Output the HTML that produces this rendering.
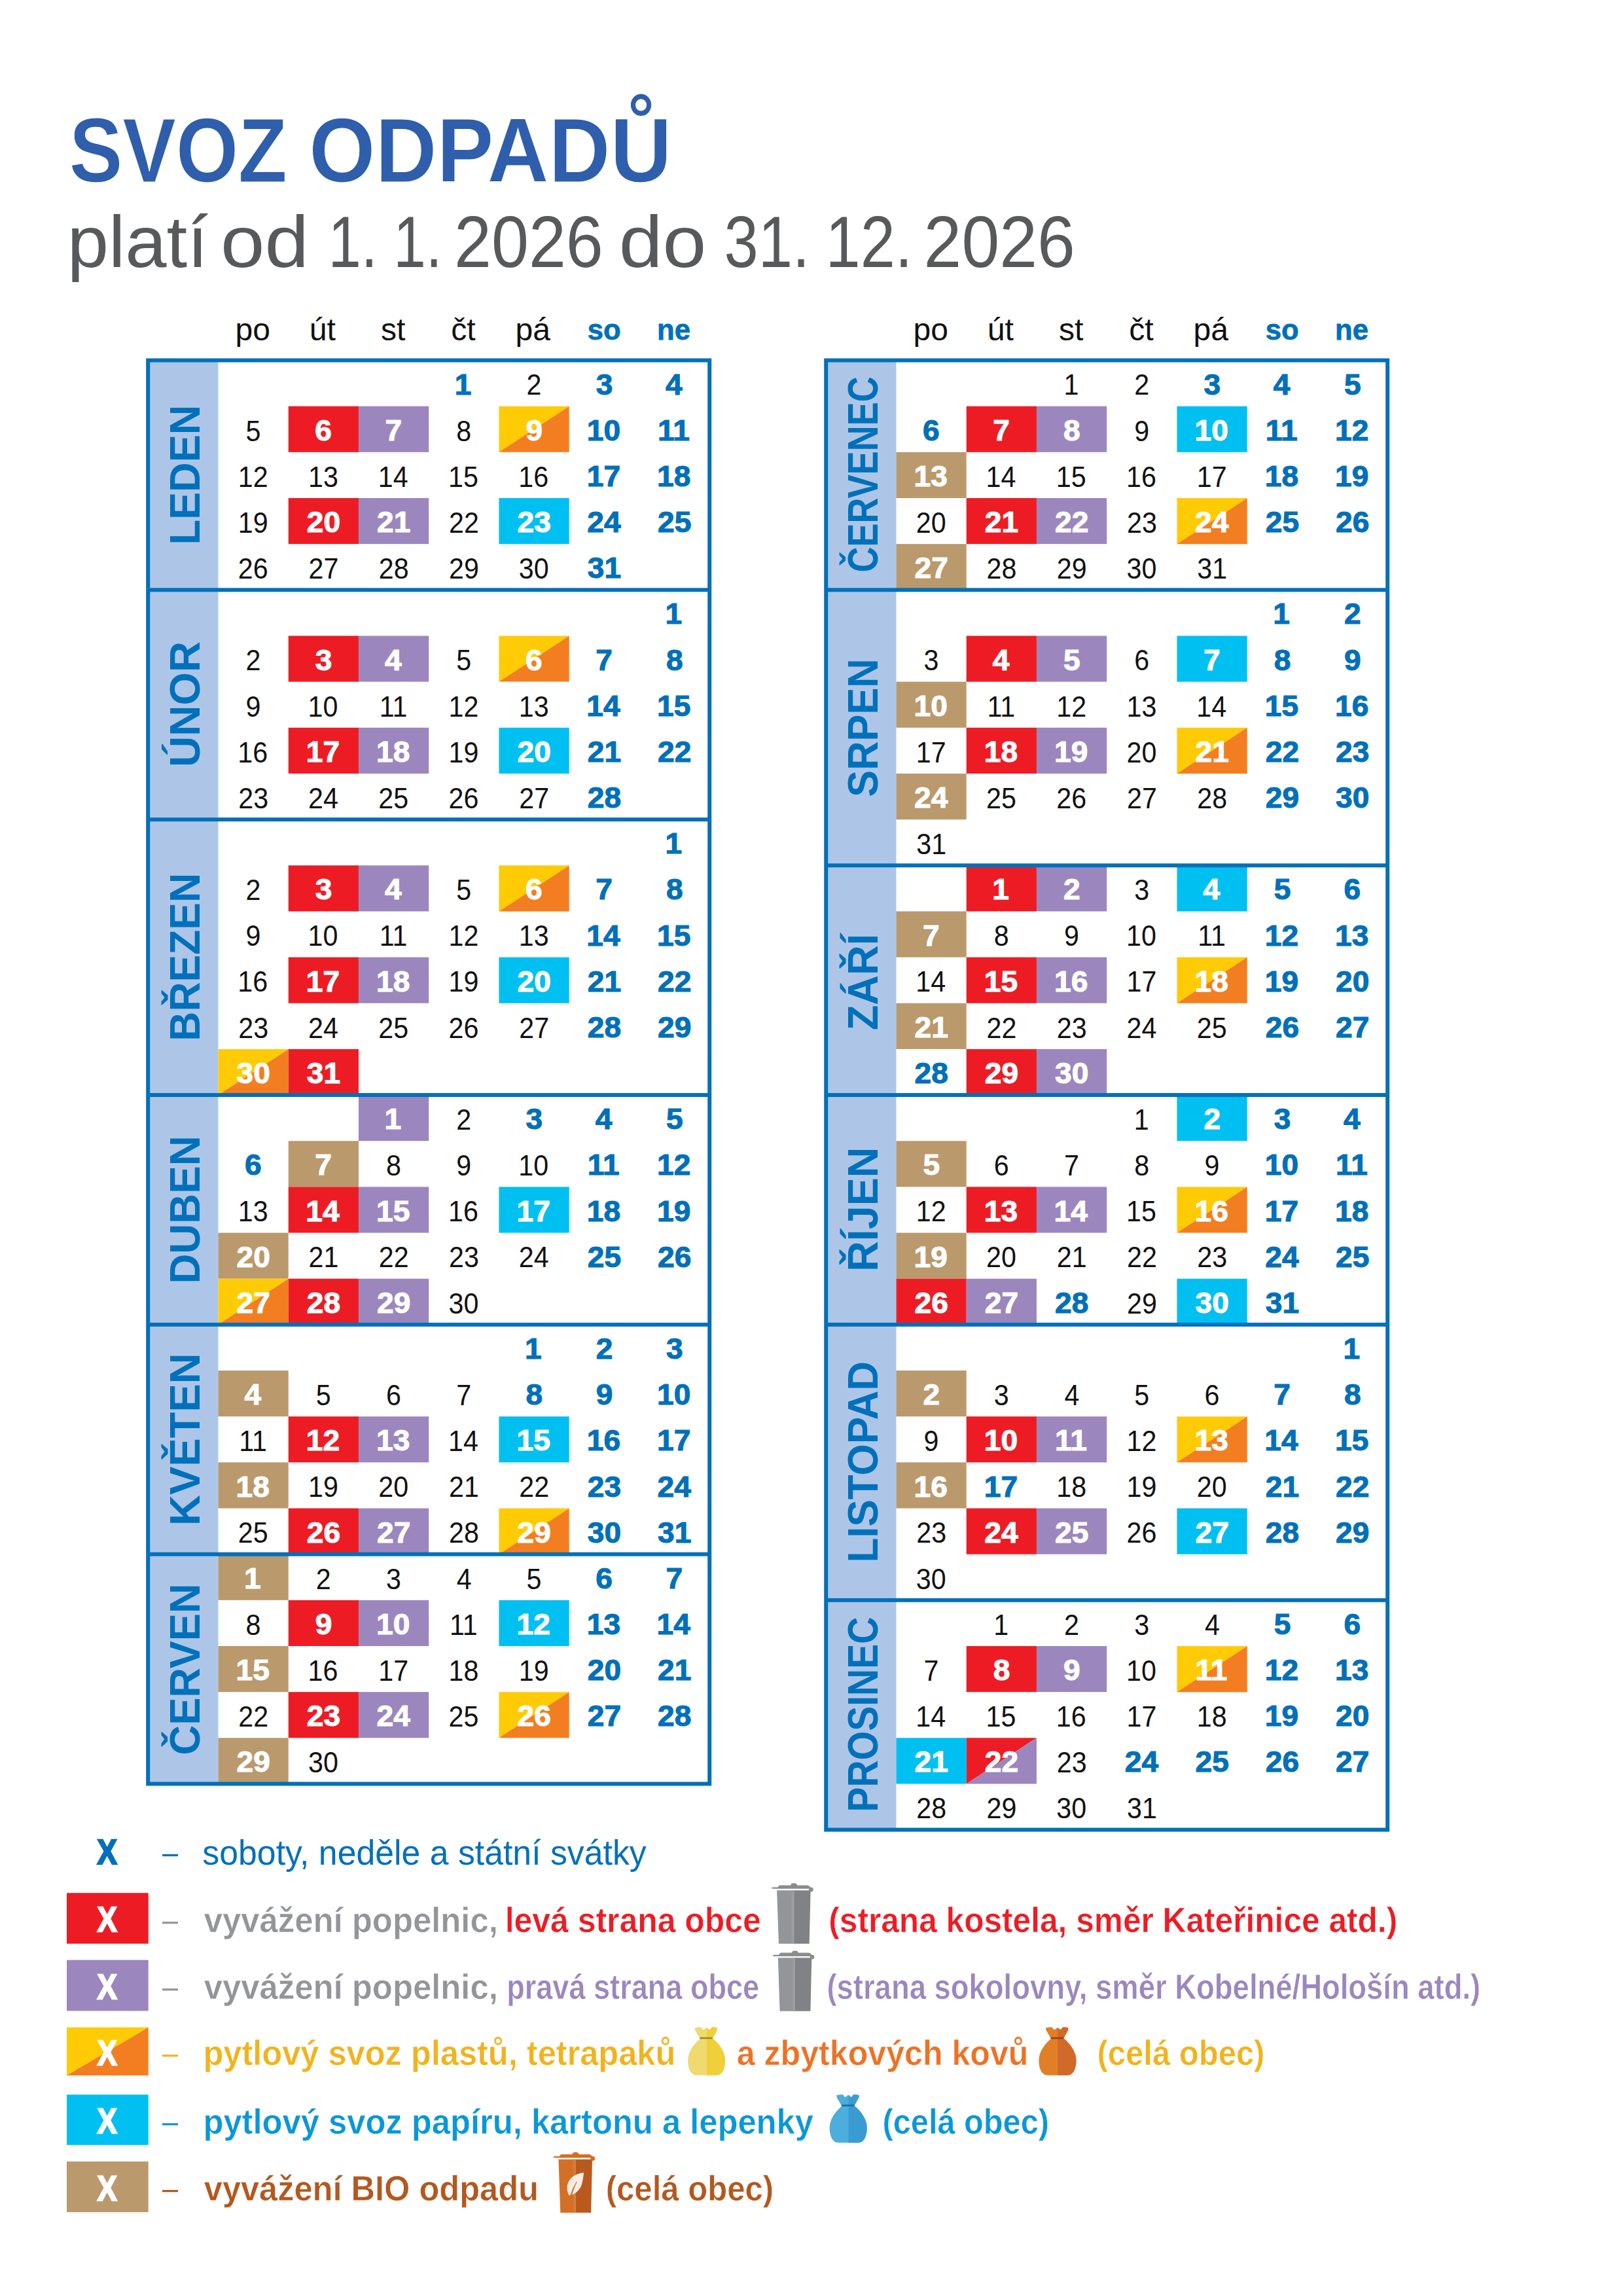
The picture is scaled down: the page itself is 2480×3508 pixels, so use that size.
<!DOCTYPE html>
<html lang="cs"><head><meta charset="utf-8"><title>Svoz odpadů 2026</title>
<style>
html,body{margin:0;padding:0;background:#fff;}
body{width:2480px;height:3508px;overflow:hidden;}
svg{display:block;}
text{font-family:"Liberation Sans",Arial,sans-serif;}
.r{font-size:44.3px;}
.b{font-size:44.3px;font-weight:bold;stroke-width:1.1px;}
</style></head><body>
<svg width="2480" height="3508" viewBox="0 0 2480 3508">
<rect width="2480" height="3508" fill="#fff"/>
<text x="105.79" y="277.8" font-size="139.5" font-weight="bold" fill="#2E5EAC" textLength="333.05" lengthAdjust="spacingAndGlyphs" stroke="#FFFFFF" stroke-width="1">SVOZ</text>
<text x="472.3" y="277.8" font-size="139.5" font-weight="bold" fill="#2E5EAC" textLength="554.22" lengthAdjust="spacingAndGlyphs" stroke="#FFFFFF" stroke-width="1">ODPADŮ</text>
<text x="102.83" y="407.6" font-size="111" fill="#58595B" textLength="215" lengthAdjust="spacingAndGlyphs">platí</text>
<text x="337.04" y="407.6" font-size="111" fill="#58595B" textLength="134.81" lengthAdjust="spacingAndGlyphs">od</text>
<text x="501.47" y="407.6" font-size="111" fill="#58595B" textLength="75.54" lengthAdjust="spacingAndGlyphs">1.</text>
<text x="601.18" y="407.6" font-size="111" fill="#58595B" textLength="74.3" lengthAdjust="spacingAndGlyphs">1.</text>
<text x="694.09" y="407.6" font-size="111" fill="#58595B" textLength="227.66" lengthAdjust="spacingAndGlyphs">2026</text>
<text x="945.7" y="407.6" font-size="111" fill="#58595B" textLength="133.43" lengthAdjust="spacingAndGlyphs">do</text>
<text x="1106.62" y="407.6" font-size="111" fill="#58595B" textLength="130.5" lengthAdjust="spacingAndGlyphs">31.</text>
<text x="1261.51" y="407.6" font-size="111" fill="#58595B" textLength="132.86" lengthAdjust="spacingAndGlyphs">12.</text>
<text x="1411.62" y="407.6" font-size="111" fill="#58595B" textLength="231.09" lengthAdjust="spacingAndGlyphs">2026</text>
<text x="359.57" y="519.8" font-size="48" fill="#111111">po</text>
<text x="472.82" y="519.8" font-size="48" fill="#111111">út</text>
<text x="582.08" y="519.8" font-size="48" fill="#111111">st</text>
<text x="689.33" y="519.8" font-size="48" fill="#111111">čt</text>
<text x="787.58" y="519.8" font-size="48" fill="#111111">pá</text>
<text x="897.83" y="519.2" font-size="43.6" font-weight="bold" fill="#0070BA" stroke="#0070BA" stroke-width="0.8">so</text>
<text x="1004.08" y="519.2" font-size="43.6" font-weight="bold" fill="#0070BA" stroke="#0070BA" stroke-width="0.8">ne</text>
<rect x="226.2" y="550.5" width="107.25" height="2174.96" fill="#ADC6E8"/>
<rect x="440.7" y="620.66" width="107.25" height="70.16" fill="#ED1C24"/>
<rect x="547.95" y="620.66" width="107.25" height="70.16" fill="#9B87BE"/>
<path d="M762.45 620.66H869.7L762.45 690.82Z" fill="#FFCB05"/>
<path d="M869.7 620.66V690.82H762.45Z" fill="#F37E21"/>
<rect x="440.7" y="760.98" width="107.25" height="70.16" fill="#ED1C24"/>
<rect x="547.95" y="760.98" width="107.25" height="70.16" fill="#9B87BE"/>
<rect x="762.45" y="760.98" width="107.25" height="70.16" fill="#00C0F2"/>
<rect x="440.7" y="971.46" width="107.25" height="70.16" fill="#ED1C24"/>
<rect x="547.95" y="971.46" width="107.25" height="70.16" fill="#9B87BE"/>
<path d="M762.45 971.46H869.7L762.45 1041.62Z" fill="#FFCB05"/>
<path d="M869.7 971.46V1041.62H762.45Z" fill="#F37E21"/>
<rect x="440.7" y="1111.78" width="107.25" height="70.16" fill="#ED1C24"/>
<rect x="547.95" y="1111.78" width="107.25" height="70.16" fill="#9B87BE"/>
<rect x="762.45" y="1111.78" width="107.25" height="70.16" fill="#00C0F2"/>
<rect x="440.7" y="1322.26" width="107.25" height="70.16" fill="#ED1C24"/>
<rect x="547.95" y="1322.26" width="107.25" height="70.16" fill="#9B87BE"/>
<path d="M762.45 1322.26H869.7L762.45 1392.42Z" fill="#FFCB05"/>
<path d="M869.7 1322.26V1392.42H762.45Z" fill="#F37E21"/>
<rect x="440.7" y="1462.58" width="107.25" height="70.16" fill="#ED1C24"/>
<rect x="547.95" y="1462.58" width="107.25" height="70.16" fill="#9B87BE"/>
<rect x="762.45" y="1462.58" width="107.25" height="70.16" fill="#00C0F2"/>
<path d="M333.45 1602.9H440.7L333.45 1673.06Z" fill="#FFCB05"/>
<path d="M440.7 1602.9V1673.06H333.45Z" fill="#F37E21"/>
<rect x="440.7" y="1602.9" width="107.25" height="70.16" fill="#ED1C24"/>
<rect x="547.95" y="1673.06" width="107.25" height="70.16" fill="#9B87BE"/>
<rect x="440.7" y="1743.22" width="107.25" height="70.16" fill="#BA996C"/>
<rect x="440.7" y="1813.38" width="107.25" height="70.16" fill="#ED1C24"/>
<rect x="547.95" y="1813.38" width="107.25" height="70.16" fill="#9B87BE"/>
<rect x="762.45" y="1813.38" width="107.25" height="70.16" fill="#00C0F2"/>
<rect x="333.45" y="1883.54" width="107.25" height="70.16" fill="#BA996C"/>
<path d="M333.45 1953.7H440.7L333.45 2023.86Z" fill="#FFCB05"/>
<path d="M440.7 1953.7V2023.86H333.45Z" fill="#F37E21"/>
<rect x="440.7" y="1953.7" width="107.25" height="70.16" fill="#ED1C24"/>
<rect x="547.95" y="1953.7" width="107.25" height="70.16" fill="#9B87BE"/>
<rect x="333.45" y="2094.02" width="107.25" height="70.16" fill="#BA996C"/>
<rect x="440.7" y="2164.18" width="107.25" height="70.16" fill="#ED1C24"/>
<rect x="547.95" y="2164.18" width="107.25" height="70.16" fill="#9B87BE"/>
<rect x="762.45" y="2164.18" width="107.25" height="70.16" fill="#00C0F2"/>
<rect x="333.45" y="2234.34" width="107.25" height="70.16" fill="#BA996C"/>
<rect x="440.7" y="2304.5" width="107.25" height="70.16" fill="#ED1C24"/>
<rect x="547.95" y="2304.5" width="107.25" height="70.16" fill="#9B87BE"/>
<path d="M762.45 2304.5H869.7L762.45 2374.66Z" fill="#FFCB05"/>
<path d="M869.7 2304.5V2374.66H762.45Z" fill="#F37E21"/>
<rect x="333.45" y="2374.66" width="107.25" height="70.16" fill="#BA996C"/>
<rect x="440.7" y="2444.82" width="107.25" height="70.16" fill="#ED1C24"/>
<rect x="547.95" y="2444.82" width="107.25" height="70.16" fill="#9B87BE"/>
<rect x="762.45" y="2444.82" width="107.25" height="70.16" fill="#00C0F2"/>
<rect x="333.45" y="2514.98" width="107.25" height="70.16" fill="#BA996C"/>
<rect x="440.7" y="2585.14" width="107.25" height="70.16" fill="#ED1C24"/>
<rect x="547.95" y="2585.14" width="107.25" height="70.16" fill="#9B87BE"/>
<path d="M762.45 2585.14H869.7L762.45 2655.3Z" fill="#FFCB05"/>
<path d="M869.7 2585.14V2655.3H762.45Z" fill="#F37E21"/>
<rect x="333.45" y="2655.3" width="107.25" height="70.16" fill="#BA996C"/>
<text x="694.79" y="602.68" class="b" fill="#0070BA" textLength="25.62" lengthAdjust="spacingAndGlyphs" stroke="#0070BA">1</text>
<text x="804.45" y="603.38" class="r" fill="#111111" textLength="22.91" lengthAdjust="spacingAndGlyphs">2</text>
<text x="910.85" y="602.68" class="b" fill="#0070BA" textLength="25.62" lengthAdjust="spacingAndGlyphs" stroke="#0070BA">3</text>
<text x="1017.06" y="602.68" class="b" fill="#0070BA" textLength="25.62" lengthAdjust="spacingAndGlyphs" stroke="#0070BA">4</text>
<text x="375.45" y="673.54" class="r" fill="#111111" textLength="22.91" lengthAdjust="spacingAndGlyphs">5</text>
<text x="481.32" y="672.84" class="b" fill="#FFFFFF" textLength="25.62" lengthAdjust="spacingAndGlyphs" stroke="#FFFFFF">6</text>
<text x="588.58" y="672.84" class="b" fill="#FFFFFF" textLength="25.62" lengthAdjust="spacingAndGlyphs" stroke="#FFFFFF">7</text>
<text x="697.2" y="673.54" class="r" fill="#111111" textLength="22.91" lengthAdjust="spacingAndGlyphs">8</text>
<text x="803.6" y="672.84" class="b" fill="#FFFFFF" textLength="25.62" lengthAdjust="spacingAndGlyphs" stroke="#FFFFFF">9</text>
<text x="896.81" y="672.84" class="b" fill="#0070BA" textLength="51.24" lengthAdjust="spacingAndGlyphs" stroke="#0070BA">10</text>
<text x="1005.1" y="672.84" class="b" fill="#0070BA" textLength="48.7" lengthAdjust="spacingAndGlyphs" stroke="#0070BA">11</text>
<text x="363.82" y="743.7" class="r" fill="#111111" textLength="45.82" lengthAdjust="spacingAndGlyphs">12</text>
<text x="471.07" y="743.7" class="r" fill="#111111" textLength="45.82" lengthAdjust="spacingAndGlyphs">13</text>
<text x="577.86" y="743.7" class="r" fill="#111111" textLength="45.82" lengthAdjust="spacingAndGlyphs">14</text>
<text x="685.11" y="743.7" class="r" fill="#111111" textLength="45.82" lengthAdjust="spacingAndGlyphs">15</text>
<text x="792.36" y="743.7" class="r" fill="#111111" textLength="45.82" lengthAdjust="spacingAndGlyphs">16</text>
<text x="896.81" y="743" class="b" fill="#0070BA" textLength="51.24" lengthAdjust="spacingAndGlyphs" stroke="#0070BA">17</text>
<text x="1004.06" y="743" class="b" fill="#0070BA" textLength="51.24" lengthAdjust="spacingAndGlyphs" stroke="#0070BA">18</text>
<text x="363.82" y="813.87" class="r" fill="#111111" textLength="45.82" lengthAdjust="spacingAndGlyphs">19</text>
<text x="468.84" y="813.16" class="b" fill="#FFFFFF" textLength="51.24" lengthAdjust="spacingAndGlyphs" stroke="#FFFFFF">20</text>
<text x="576.1" y="813.16" class="b" fill="#FFFFFF" textLength="51.24" lengthAdjust="spacingAndGlyphs" stroke="#FFFFFF">21</text>
<text x="686.04" y="813.87" class="r" fill="#111111" textLength="45.82" lengthAdjust="spacingAndGlyphs">22</text>
<text x="790.6" y="813.16" class="b" fill="#FFFFFF" textLength="51.24" lengthAdjust="spacingAndGlyphs" stroke="#FFFFFF">23</text>
<text x="897.33" y="813.16" class="b" fill="#0070BA" textLength="51.24" lengthAdjust="spacingAndGlyphs" stroke="#0070BA">24</text>
<text x="1005.1" y="813.16" class="b" fill="#0070BA" textLength="51.24" lengthAdjust="spacingAndGlyphs" stroke="#0070BA">25</text>
<text x="363.82" y="884.02" class="r" fill="#111111" textLength="45.82" lengthAdjust="spacingAndGlyphs">26</text>
<text x="471.54" y="884.02" class="r" fill="#111111" textLength="45.82" lengthAdjust="spacingAndGlyphs">27</text>
<text x="578.79" y="884.02" class="r" fill="#111111" textLength="45.82" lengthAdjust="spacingAndGlyphs">28</text>
<text x="686.04" y="884.02" class="r" fill="#111111" textLength="45.82" lengthAdjust="spacingAndGlyphs">29</text>
<text x="792.83" y="884.02" class="r" fill="#111111" textLength="45.82" lengthAdjust="spacingAndGlyphs">30</text>
<text x="897.85" y="883.32" class="b" fill="#0070BA" textLength="51.24" lengthAdjust="spacingAndGlyphs" stroke="#0070BA">31</text>
<text x="1016.54" y="953.48" class="b" fill="#0070BA" textLength="25.62" lengthAdjust="spacingAndGlyphs" stroke="#0070BA">1</text>
<text x="375.45" y="1024.35" class="r" fill="#111111" textLength="22.91" lengthAdjust="spacingAndGlyphs">2</text>
<text x="481.84" y="1023.64" class="b" fill="#FFFFFF" textLength="25.62" lengthAdjust="spacingAndGlyphs" stroke="#FFFFFF">3</text>
<text x="588.06" y="1023.64" class="b" fill="#FFFFFF" textLength="25.62" lengthAdjust="spacingAndGlyphs" stroke="#FFFFFF">4</text>
<text x="697.2" y="1024.35" class="r" fill="#111111" textLength="22.91" lengthAdjust="spacingAndGlyphs">5</text>
<text x="803.08" y="1023.64" class="b" fill="#FFFFFF" textLength="25.62" lengthAdjust="spacingAndGlyphs" stroke="#FFFFFF">6</text>
<text x="910.33" y="1023.64" class="b" fill="#0070BA" textLength="25.62" lengthAdjust="spacingAndGlyphs" stroke="#0070BA">7</text>
<text x="1018.1" y="1023.64" class="b" fill="#0070BA" textLength="25.62" lengthAdjust="spacingAndGlyphs" stroke="#0070BA">8</text>
<text x="375.45" y="1094.5" class="r" fill="#111111" textLength="22.91" lengthAdjust="spacingAndGlyphs">9</text>
<text x="470.61" y="1094.5" class="r" fill="#111111" textLength="45.82" lengthAdjust="spacingAndGlyphs">10</text>
<text x="579.72" y="1094.5" class="r" fill="#111111" textLength="42.76" lengthAdjust="spacingAndGlyphs">11</text>
<text x="685.58" y="1094.5" class="r" fill="#111111" textLength="45.82" lengthAdjust="spacingAndGlyphs">12</text>
<text x="792.83" y="1094.5" class="r" fill="#111111" textLength="45.82" lengthAdjust="spacingAndGlyphs">13</text>
<text x="896.29" y="1093.8" class="b" fill="#0070BA" textLength="51.24" lengthAdjust="spacingAndGlyphs" stroke="#0070BA">14</text>
<text x="1004.06" y="1093.8" class="b" fill="#0070BA" textLength="51.24" lengthAdjust="spacingAndGlyphs" stroke="#0070BA">15</text>
<text x="363.36" y="1164.66" class="r" fill="#111111" textLength="45.82" lengthAdjust="spacingAndGlyphs">16</text>
<text x="467.81" y="1163.96" class="b" fill="#FFFFFF" textLength="51.24" lengthAdjust="spacingAndGlyphs" stroke="#FFFFFF">17</text>
<text x="575.06" y="1163.96" class="b" fill="#FFFFFF" textLength="51.24" lengthAdjust="spacingAndGlyphs" stroke="#FFFFFF">18</text>
<text x="685.58" y="1164.66" class="r" fill="#111111" textLength="45.82" lengthAdjust="spacingAndGlyphs">19</text>
<text x="790.6" y="1163.96" class="b" fill="#FFFFFF" textLength="51.24" lengthAdjust="spacingAndGlyphs" stroke="#FFFFFF">20</text>
<text x="897.85" y="1163.96" class="b" fill="#0070BA" textLength="51.24" lengthAdjust="spacingAndGlyphs" stroke="#0070BA">21</text>
<text x="1005.1" y="1163.96" class="b" fill="#0070BA" textLength="51.24" lengthAdjust="spacingAndGlyphs" stroke="#0070BA">22</text>
<text x="364.29" y="1234.83" class="r" fill="#111111" textLength="45.82" lengthAdjust="spacingAndGlyphs">23</text>
<text x="471.07" y="1234.83" class="r" fill="#111111" textLength="45.82" lengthAdjust="spacingAndGlyphs">24</text>
<text x="578.33" y="1234.83" class="r" fill="#111111" textLength="45.82" lengthAdjust="spacingAndGlyphs">25</text>
<text x="685.58" y="1234.83" class="r" fill="#111111" textLength="45.82" lengthAdjust="spacingAndGlyphs">26</text>
<text x="793.29" y="1234.83" class="r" fill="#111111" textLength="45.82" lengthAdjust="spacingAndGlyphs">27</text>
<text x="897.85" y="1234.12" class="b" fill="#0070BA" textLength="51.24" lengthAdjust="spacingAndGlyphs" stroke="#0070BA">28</text>
<text x="1016.54" y="1304.28" class="b" fill="#0070BA" textLength="25.62" lengthAdjust="spacingAndGlyphs" stroke="#0070BA">1</text>
<text x="375.45" y="1375.14" class="r" fill="#111111" textLength="22.91" lengthAdjust="spacingAndGlyphs">2</text>
<text x="481.84" y="1374.44" class="b" fill="#FFFFFF" textLength="25.62" lengthAdjust="spacingAndGlyphs" stroke="#FFFFFF">3</text>
<text x="588.06" y="1374.44" class="b" fill="#FFFFFF" textLength="25.62" lengthAdjust="spacingAndGlyphs" stroke="#FFFFFF">4</text>
<text x="697.2" y="1375.14" class="r" fill="#111111" textLength="22.91" lengthAdjust="spacingAndGlyphs">5</text>
<text x="803.08" y="1374.44" class="b" fill="#FFFFFF" textLength="25.62" lengthAdjust="spacingAndGlyphs" stroke="#FFFFFF">6</text>
<text x="910.33" y="1374.44" class="b" fill="#0070BA" textLength="25.62" lengthAdjust="spacingAndGlyphs" stroke="#0070BA">7</text>
<text x="1018.1" y="1374.44" class="b" fill="#0070BA" textLength="25.62" lengthAdjust="spacingAndGlyphs" stroke="#0070BA">8</text>
<text x="375.45" y="1445.31" class="r" fill="#111111" textLength="22.91" lengthAdjust="spacingAndGlyphs">9</text>
<text x="470.61" y="1445.31" class="r" fill="#111111" textLength="45.82" lengthAdjust="spacingAndGlyphs">10</text>
<text x="579.72" y="1445.31" class="r" fill="#111111" textLength="42.76" lengthAdjust="spacingAndGlyphs">11</text>
<text x="685.58" y="1445.31" class="r" fill="#111111" textLength="45.82" lengthAdjust="spacingAndGlyphs">12</text>
<text x="792.83" y="1445.31" class="r" fill="#111111" textLength="45.82" lengthAdjust="spacingAndGlyphs">13</text>
<text x="896.29" y="1444.61" class="b" fill="#0070BA" textLength="51.24" lengthAdjust="spacingAndGlyphs" stroke="#0070BA">14</text>
<text x="1004.06" y="1444.61" class="b" fill="#0070BA" textLength="51.24" lengthAdjust="spacingAndGlyphs" stroke="#0070BA">15</text>
<text x="363.36" y="1515.46" class="r" fill="#111111" textLength="45.82" lengthAdjust="spacingAndGlyphs">16</text>
<text x="467.81" y="1514.76" class="b" fill="#FFFFFF" textLength="51.24" lengthAdjust="spacingAndGlyphs" stroke="#FFFFFF">17</text>
<text x="575.06" y="1514.76" class="b" fill="#FFFFFF" textLength="51.24" lengthAdjust="spacingAndGlyphs" stroke="#FFFFFF">18</text>
<text x="685.58" y="1515.46" class="r" fill="#111111" textLength="45.82" lengthAdjust="spacingAndGlyphs">19</text>
<text x="790.6" y="1514.76" class="b" fill="#FFFFFF" textLength="51.24" lengthAdjust="spacingAndGlyphs" stroke="#FFFFFF">20</text>
<text x="897.85" y="1514.76" class="b" fill="#0070BA" textLength="51.24" lengthAdjust="spacingAndGlyphs" stroke="#0070BA">21</text>
<text x="1005.1" y="1514.76" class="b" fill="#0070BA" textLength="51.24" lengthAdjust="spacingAndGlyphs" stroke="#0070BA">22</text>
<text x="364.29" y="1585.62" class="r" fill="#111111" textLength="45.82" lengthAdjust="spacingAndGlyphs">23</text>
<text x="471.07" y="1585.62" class="r" fill="#111111" textLength="45.82" lengthAdjust="spacingAndGlyphs">24</text>
<text x="578.33" y="1585.62" class="r" fill="#111111" textLength="45.82" lengthAdjust="spacingAndGlyphs">25</text>
<text x="685.58" y="1585.62" class="r" fill="#111111" textLength="45.82" lengthAdjust="spacingAndGlyphs">26</text>
<text x="793.29" y="1585.62" class="r" fill="#111111" textLength="45.82" lengthAdjust="spacingAndGlyphs">27</text>
<text x="897.85" y="1584.92" class="b" fill="#0070BA" textLength="51.24" lengthAdjust="spacingAndGlyphs" stroke="#0070BA">28</text>
<text x="1005.1" y="1584.92" class="b" fill="#0070BA" textLength="51.24" lengthAdjust="spacingAndGlyphs" stroke="#0070BA">29</text>
<text x="361.59" y="1655.08" class="b" fill="#FFFFFF" textLength="51.24" lengthAdjust="spacingAndGlyphs" stroke="#FFFFFF">30</text>
<text x="468.84" y="1655.08" class="b" fill="#FFFFFF" textLength="51.24" lengthAdjust="spacingAndGlyphs" stroke="#FFFFFF">31</text>
<text x="587.54" y="1725.24" class="b" fill="#FFFFFF" textLength="25.62" lengthAdjust="spacingAndGlyphs" stroke="#FFFFFF">1</text>
<text x="697.2" y="1725.94" class="r" fill="#111111" textLength="22.91" lengthAdjust="spacingAndGlyphs">2</text>
<text x="803.6" y="1725.24" class="b" fill="#0070BA" textLength="25.62" lengthAdjust="spacingAndGlyphs" stroke="#0070BA">3</text>
<text x="909.81" y="1725.24" class="b" fill="#0070BA" textLength="25.62" lengthAdjust="spacingAndGlyphs" stroke="#0070BA">4</text>
<text x="1018.1" y="1725.24" class="b" fill="#0070BA" textLength="25.62" lengthAdjust="spacingAndGlyphs" stroke="#0070BA">5</text>
<text x="374.07" y="1795.4" class="b" fill="#0070BA" textLength="25.62" lengthAdjust="spacingAndGlyphs" stroke="#0070BA">6</text>
<text x="481.32" y="1795.4" class="b" fill="#FFFFFF" textLength="25.62" lengthAdjust="spacingAndGlyphs" stroke="#FFFFFF">7</text>
<text x="589.95" y="1796.11" class="r" fill="#111111" textLength="22.91" lengthAdjust="spacingAndGlyphs">8</text>
<text x="697.2" y="1796.11" class="r" fill="#111111" textLength="22.91" lengthAdjust="spacingAndGlyphs">9</text>
<text x="792.36" y="1796.11" class="r" fill="#111111" textLength="45.82" lengthAdjust="spacingAndGlyphs">10</text>
<text x="897.85" y="1795.4" class="b" fill="#0070BA" textLength="48.7" lengthAdjust="spacingAndGlyphs" stroke="#0070BA">11</text>
<text x="1004.06" y="1795.4" class="b" fill="#0070BA" textLength="51.24" lengthAdjust="spacingAndGlyphs" stroke="#0070BA">12</text>
<text x="363.82" y="1866.26" class="r" fill="#111111" textLength="45.82" lengthAdjust="spacingAndGlyphs">13</text>
<text x="467.28" y="1865.56" class="b" fill="#FFFFFF" textLength="51.24" lengthAdjust="spacingAndGlyphs" stroke="#FFFFFF">14</text>
<text x="575.06" y="1865.56" class="b" fill="#FFFFFF" textLength="51.24" lengthAdjust="spacingAndGlyphs" stroke="#FFFFFF">15</text>
<text x="685.11" y="1866.26" class="r" fill="#111111" textLength="45.82" lengthAdjust="spacingAndGlyphs">16</text>
<text x="789.56" y="1865.56" class="b" fill="#FFFFFF" textLength="51.24" lengthAdjust="spacingAndGlyphs" stroke="#FFFFFF">17</text>
<text x="896.81" y="1865.56" class="b" fill="#0070BA" textLength="51.24" lengthAdjust="spacingAndGlyphs" stroke="#0070BA">18</text>
<text x="1004.06" y="1865.56" class="b" fill="#0070BA" textLength="51.24" lengthAdjust="spacingAndGlyphs" stroke="#0070BA">19</text>
<text x="361.59" y="1935.72" class="b" fill="#FFFFFF" textLength="51.24" lengthAdjust="spacingAndGlyphs" stroke="#FFFFFF">20</text>
<text x="471.54" y="1936.42" class="r" fill="#111111" textLength="45.82" lengthAdjust="spacingAndGlyphs">21</text>
<text x="578.79" y="1936.42" class="r" fill="#111111" textLength="45.82" lengthAdjust="spacingAndGlyphs">22</text>
<text x="686.04" y="1936.42" class="r" fill="#111111" textLength="45.82" lengthAdjust="spacingAndGlyphs">23</text>
<text x="792.83" y="1936.42" class="r" fill="#111111" textLength="45.82" lengthAdjust="spacingAndGlyphs">24</text>
<text x="897.85" y="1935.72" class="b" fill="#0070BA" textLength="51.24" lengthAdjust="spacingAndGlyphs" stroke="#0070BA">25</text>
<text x="1005.1" y="1935.72" class="b" fill="#0070BA" textLength="51.24" lengthAdjust="spacingAndGlyphs" stroke="#0070BA">26</text>
<text x="361.59" y="2005.88" class="b" fill="#FFFFFF" textLength="51.24" lengthAdjust="spacingAndGlyphs" stroke="#FFFFFF">27</text>
<text x="468.84" y="2005.88" class="b" fill="#FFFFFF" textLength="51.24" lengthAdjust="spacingAndGlyphs" stroke="#FFFFFF">28</text>
<text x="576.1" y="2005.88" class="b" fill="#FFFFFF" textLength="51.24" lengthAdjust="spacingAndGlyphs" stroke="#FFFFFF">29</text>
<text x="685.58" y="2006.58" class="r" fill="#111111" textLength="45.82" lengthAdjust="spacingAndGlyphs">30</text>
<text x="802.04" y="2076.05" class="b" fill="#0070BA" textLength="25.62" lengthAdjust="spacingAndGlyphs" stroke="#0070BA">1</text>
<text x="910.85" y="2076.05" class="b" fill="#0070BA" textLength="25.62" lengthAdjust="spacingAndGlyphs" stroke="#0070BA">2</text>
<text x="1018.1" y="2076.05" class="b" fill="#0070BA" textLength="25.62" lengthAdjust="spacingAndGlyphs" stroke="#0070BA">3</text>
<text x="373.56" y="2146.21" class="b" fill="#FFFFFF" textLength="25.62" lengthAdjust="spacingAndGlyphs" stroke="#FFFFFF">4</text>
<text x="482.7" y="2146.91" class="r" fill="#111111" textLength="22.91" lengthAdjust="spacingAndGlyphs">5</text>
<text x="589.95" y="2146.91" class="r" fill="#111111" textLength="22.91" lengthAdjust="spacingAndGlyphs">6</text>
<text x="697.2" y="2146.91" class="r" fill="#111111" textLength="22.91" lengthAdjust="spacingAndGlyphs">7</text>
<text x="803.6" y="2146.21" class="b" fill="#0070BA" textLength="25.62" lengthAdjust="spacingAndGlyphs" stroke="#0070BA">8</text>
<text x="910.85" y="2146.21" class="b" fill="#0070BA" textLength="25.62" lengthAdjust="spacingAndGlyphs" stroke="#0070BA">9</text>
<text x="1004.06" y="2146.21" class="b" fill="#0070BA" textLength="51.24" lengthAdjust="spacingAndGlyphs" stroke="#0070BA">10</text>
<text x="365.22" y="2217.07" class="r" fill="#111111" textLength="42.76" lengthAdjust="spacingAndGlyphs">11</text>
<text x="467.81" y="2216.37" class="b" fill="#FFFFFF" textLength="51.24" lengthAdjust="spacingAndGlyphs" stroke="#FFFFFF">12</text>
<text x="575.06" y="2216.37" class="b" fill="#FFFFFF" textLength="51.24" lengthAdjust="spacingAndGlyphs" stroke="#FFFFFF">13</text>
<text x="685.11" y="2217.07" class="r" fill="#111111" textLength="45.82" lengthAdjust="spacingAndGlyphs">14</text>
<text x="789.56" y="2216.37" class="b" fill="#FFFFFF" textLength="51.24" lengthAdjust="spacingAndGlyphs" stroke="#FFFFFF">15</text>
<text x="896.81" y="2216.37" class="b" fill="#0070BA" textLength="51.24" lengthAdjust="spacingAndGlyphs" stroke="#0070BA">16</text>
<text x="1004.06" y="2216.37" class="b" fill="#0070BA" textLength="51.24" lengthAdjust="spacingAndGlyphs" stroke="#0070BA">17</text>
<text x="360.56" y="2286.53" class="b" fill="#FFFFFF" textLength="51.24" lengthAdjust="spacingAndGlyphs" stroke="#FFFFFF">18</text>
<text x="471.07" y="2287.23" class="r" fill="#111111" textLength="45.82" lengthAdjust="spacingAndGlyphs">19</text>
<text x="578.33" y="2287.23" class="r" fill="#111111" textLength="45.82" lengthAdjust="spacingAndGlyphs">20</text>
<text x="686.04" y="2287.23" class="r" fill="#111111" textLength="45.82" lengthAdjust="spacingAndGlyphs">21</text>
<text x="793.29" y="2287.23" class="r" fill="#111111" textLength="45.82" lengthAdjust="spacingAndGlyphs">22</text>
<text x="897.85" y="2286.53" class="b" fill="#0070BA" textLength="51.24" lengthAdjust="spacingAndGlyphs" stroke="#0070BA">23</text>
<text x="1004.58" y="2286.53" class="b" fill="#0070BA" textLength="51.24" lengthAdjust="spacingAndGlyphs" stroke="#0070BA">24</text>
<text x="363.82" y="2357.39" class="r" fill="#111111" textLength="45.82" lengthAdjust="spacingAndGlyphs">25</text>
<text x="468.84" y="2356.69" class="b" fill="#FFFFFF" textLength="51.24" lengthAdjust="spacingAndGlyphs" stroke="#FFFFFF">26</text>
<text x="576.1" y="2356.69" class="b" fill="#FFFFFF" textLength="51.24" lengthAdjust="spacingAndGlyphs" stroke="#FFFFFF">27</text>
<text x="686.04" y="2357.39" class="r" fill="#111111" textLength="45.82" lengthAdjust="spacingAndGlyphs">28</text>
<text x="790.6" y="2356.69" class="b" fill="#FFFFFF" textLength="51.24" lengthAdjust="spacingAndGlyphs" stroke="#FFFFFF">29</text>
<text x="897.85" y="2356.69" class="b" fill="#0070BA" textLength="51.24" lengthAdjust="spacingAndGlyphs" stroke="#0070BA">30</text>
<text x="1005.1" y="2356.69" class="b" fill="#0070BA" textLength="51.24" lengthAdjust="spacingAndGlyphs" stroke="#0070BA">31</text>
<text x="373.03" y="2426.85" class="b" fill="#FFFFFF" textLength="25.62" lengthAdjust="spacingAndGlyphs" stroke="#FFFFFF">1</text>
<text x="482.7" y="2427.55" class="r" fill="#111111" textLength="22.91" lengthAdjust="spacingAndGlyphs">2</text>
<text x="589.95" y="2427.55" class="r" fill="#111111" textLength="22.91" lengthAdjust="spacingAndGlyphs">3</text>
<text x="697.67" y="2427.55" class="r" fill="#111111" textLength="22.91" lengthAdjust="spacingAndGlyphs">4</text>
<text x="804.45" y="2427.55" class="r" fill="#111111" textLength="22.91" lengthAdjust="spacingAndGlyphs">5</text>
<text x="910.33" y="2426.85" class="b" fill="#0070BA" textLength="25.62" lengthAdjust="spacingAndGlyphs" stroke="#0070BA">6</text>
<text x="1017.58" y="2426.85" class="b" fill="#0070BA" textLength="25.62" lengthAdjust="spacingAndGlyphs" stroke="#0070BA">7</text>
<text x="375.45" y="2497.7" class="r" fill="#111111" textLength="22.91" lengthAdjust="spacingAndGlyphs">8</text>
<text x="481.84" y="2497.01" class="b" fill="#FFFFFF" textLength="25.62" lengthAdjust="spacingAndGlyphs" stroke="#FFFFFF">9</text>
<text x="575.06" y="2497.01" class="b" fill="#FFFFFF" textLength="51.24" lengthAdjust="spacingAndGlyphs" stroke="#FFFFFF">10</text>
<text x="686.97" y="2497.7" class="r" fill="#111111" textLength="42.76" lengthAdjust="spacingAndGlyphs">11</text>
<text x="789.56" y="2497.01" class="b" fill="#FFFFFF" textLength="51.24" lengthAdjust="spacingAndGlyphs" stroke="#FFFFFF">12</text>
<text x="896.81" y="2497.01" class="b" fill="#0070BA" textLength="51.24" lengthAdjust="spacingAndGlyphs" stroke="#0070BA">13</text>
<text x="1003.54" y="2497.01" class="b" fill="#0070BA" textLength="51.24" lengthAdjust="spacingAndGlyphs" stroke="#0070BA">14</text>
<text x="360.56" y="2567.17" class="b" fill="#FFFFFF" textLength="51.24" lengthAdjust="spacingAndGlyphs" stroke="#FFFFFF">15</text>
<text x="470.61" y="2567.87" class="r" fill="#111111" textLength="45.82" lengthAdjust="spacingAndGlyphs">16</text>
<text x="578.33" y="2567.87" class="r" fill="#111111" textLength="45.82" lengthAdjust="spacingAndGlyphs">17</text>
<text x="685.58" y="2567.87" class="r" fill="#111111" textLength="45.82" lengthAdjust="spacingAndGlyphs">18</text>
<text x="792.83" y="2567.87" class="r" fill="#111111" textLength="45.82" lengthAdjust="spacingAndGlyphs">19</text>
<text x="897.85" y="2567.17" class="b" fill="#0070BA" textLength="51.24" lengthAdjust="spacingAndGlyphs" stroke="#0070BA">20</text>
<text x="1005.1" y="2567.17" class="b" fill="#0070BA" textLength="51.24" lengthAdjust="spacingAndGlyphs" stroke="#0070BA">21</text>
<text x="364.29" y="2638.03" class="r" fill="#111111" textLength="45.82" lengthAdjust="spacingAndGlyphs">22</text>
<text x="468.84" y="2637.33" class="b" fill="#FFFFFF" textLength="51.24" lengthAdjust="spacingAndGlyphs" stroke="#FFFFFF">23</text>
<text x="575.58" y="2637.33" class="b" fill="#FFFFFF" textLength="51.24" lengthAdjust="spacingAndGlyphs" stroke="#FFFFFF">24</text>
<text x="685.58" y="2638.03" class="r" fill="#111111" textLength="45.82" lengthAdjust="spacingAndGlyphs">25</text>
<text x="790.6" y="2637.33" class="b" fill="#FFFFFF" textLength="51.24" lengthAdjust="spacingAndGlyphs" stroke="#FFFFFF">26</text>
<text x="897.85" y="2637.33" class="b" fill="#0070BA" textLength="51.24" lengthAdjust="spacingAndGlyphs" stroke="#0070BA">27</text>
<text x="1005.1" y="2637.33" class="b" fill="#0070BA" textLength="51.24" lengthAdjust="spacingAndGlyphs" stroke="#0070BA">28</text>
<text x="361.59" y="2707.49" class="b" fill="#FFFFFF" textLength="51.24" lengthAdjust="spacingAndGlyphs" stroke="#FFFFFF">29</text>
<text x="471.07" y="2708.18" class="r" fill="#111111" textLength="45.82" lengthAdjust="spacingAndGlyphs">30</text>
<text transform="translate(305.2 725.75) rotate(-90)" x="-106.83" y="0" font-size="65" font-weight="bold" fill="#0070BA" textLength="213.96" lengthAdjust="spacingAndGlyphs">LEDEN</text>
<text transform="translate(305.2 1074.55) rotate(-90)" x="-97.47" y="0" font-size="65" font-weight="bold" fill="#0070BA" textLength="192.31" lengthAdjust="spacingAndGlyphs">ÚNOR</text>
<text transform="translate(305.2 1462.45) rotate(-90)" x="-128.29" y="0" font-size="65" font-weight="bold" fill="#0070BA" textLength="256.82" lengthAdjust="spacingAndGlyphs">BŘEZEN</text>
<text transform="translate(305.2 1848.5) rotate(-90)" x="-113.12" y="0" font-size="65" font-weight="bold" fill="#0070BA" textLength="226.35" lengthAdjust="spacingAndGlyphs">DUBEN</text>
<text transform="translate(305.2 2199.4) rotate(-90)" x="-131.5" y="0" font-size="65" font-weight="bold" fill="#0070BA" textLength="263.65" lengthAdjust="spacingAndGlyphs">KVĚTEN</text>
<text transform="translate(305.2 2551.25) rotate(-90)" x="-130.16" y="0" font-size="65" font-weight="bold" fill="#0070BA" textLength="261.99" lengthAdjust="spacingAndGlyphs">ČERVEN</text>
<rect x="226.2" y="550.5" width="858" height="2174.96" fill="none" stroke="#0070BA" stroke-width="6"/>
<rect x="226.2" y="898.3" width="858" height="6" fill="#0070BA"/>
<rect x="226.2" y="1249.1" width="858" height="6" fill="#0070BA"/>
<rect x="226.2" y="1670.06" width="858" height="6" fill="#0070BA"/>
<rect x="226.2" y="2020.86" width="858" height="6" fill="#0070BA"/>
<rect x="226.2" y="2371.66" width="858" height="6" fill="#0070BA"/>
<text x="1395.58" y="519.8" font-size="48" fill="#111111">po</text>
<text x="1508.83" y="519.8" font-size="48" fill="#111111">út</text>
<text x="1618.08" y="519.8" font-size="48" fill="#111111">st</text>
<text x="1725.33" y="519.8" font-size="48" fill="#111111">čt</text>
<text x="1823.58" y="519.8" font-size="48" fill="#111111">pá</text>
<text x="1933.83" y="519.2" font-size="43.6" font-weight="bold" fill="#0070BA" stroke="#0070BA" stroke-width="0.8">so</text>
<text x="2040.07" y="519.2" font-size="43.6" font-weight="bold" fill="#0070BA" stroke="#0070BA" stroke-width="0.8">ne</text>
<rect x="1262.2" y="550.5" width="107.25" height="2245.12" fill="#ADC6E8"/>
<rect x="1476.7" y="620.66" width="107.25" height="70.16" fill="#ED1C24"/>
<rect x="1583.95" y="620.66" width="107.25" height="70.16" fill="#9B87BE"/>
<rect x="1798.45" y="620.66" width="107.25" height="70.16" fill="#00C0F2"/>
<rect x="1369.45" y="690.82" width="107.25" height="70.16" fill="#BA996C"/>
<rect x="1476.7" y="760.98" width="107.25" height="70.16" fill="#ED1C24"/>
<rect x="1583.95" y="760.98" width="107.25" height="70.16" fill="#9B87BE"/>
<path d="M1798.45 760.98H1905.7L1798.45 831.14Z" fill="#FFCB05"/>
<path d="M1905.7 760.98V831.14H1798.45Z" fill="#F37E21"/>
<rect x="1369.45" y="831.14" width="107.25" height="70.16" fill="#BA996C"/>
<rect x="1476.7" y="971.46" width="107.25" height="70.16" fill="#ED1C24"/>
<rect x="1583.95" y="971.46" width="107.25" height="70.16" fill="#9B87BE"/>
<rect x="1798.45" y="971.46" width="107.25" height="70.16" fill="#00C0F2"/>
<rect x="1369.45" y="1041.62" width="107.25" height="70.16" fill="#BA996C"/>
<rect x="1476.7" y="1111.78" width="107.25" height="70.16" fill="#ED1C24"/>
<rect x="1583.95" y="1111.78" width="107.25" height="70.16" fill="#9B87BE"/>
<path d="M1798.45 1111.78H1905.7L1798.45 1181.94Z" fill="#FFCB05"/>
<path d="M1905.7 1111.78V1181.94H1798.45Z" fill="#F37E21"/>
<rect x="1369.45" y="1181.94" width="107.25" height="70.16" fill="#BA996C"/>
<rect x="1476.7" y="1322.26" width="107.25" height="70.16" fill="#ED1C24"/>
<rect x="1583.95" y="1322.26" width="107.25" height="70.16" fill="#9B87BE"/>
<rect x="1798.45" y="1322.26" width="107.25" height="70.16" fill="#00C0F2"/>
<rect x="1369.45" y="1392.42" width="107.25" height="70.16" fill="#BA996C"/>
<rect x="1476.7" y="1462.58" width="107.25" height="70.16" fill="#ED1C24"/>
<rect x="1583.95" y="1462.58" width="107.25" height="70.16" fill="#9B87BE"/>
<path d="M1798.45 1462.58H1905.7L1798.45 1532.74Z" fill="#FFCB05"/>
<path d="M1905.7 1462.58V1532.74H1798.45Z" fill="#F37E21"/>
<rect x="1369.45" y="1532.74" width="107.25" height="70.16" fill="#BA996C"/>
<rect x="1476.7" y="1602.9" width="107.25" height="70.16" fill="#ED1C24"/>
<rect x="1583.95" y="1602.9" width="107.25" height="70.16" fill="#9B87BE"/>
<rect x="1798.45" y="1673.06" width="107.25" height="70.16" fill="#00C0F2"/>
<rect x="1369.45" y="1743.22" width="107.25" height="70.16" fill="#BA996C"/>
<rect x="1476.7" y="1813.38" width="107.25" height="70.16" fill="#ED1C24"/>
<rect x="1583.95" y="1813.38" width="107.25" height="70.16" fill="#9B87BE"/>
<path d="M1798.45 1813.38H1905.7L1798.45 1883.54Z" fill="#FFCB05"/>
<path d="M1905.7 1813.38V1883.54H1798.45Z" fill="#F37E21"/>
<rect x="1369.45" y="1883.54" width="107.25" height="70.16" fill="#BA996C"/>
<rect x="1369.45" y="1953.7" width="107.25" height="70.16" fill="#ED1C24"/>
<rect x="1476.7" y="1953.7" width="107.25" height="70.16" fill="#9B87BE"/>
<rect x="1798.45" y="1953.7" width="107.25" height="70.16" fill="#00C0F2"/>
<rect x="1369.45" y="2094.02" width="107.25" height="70.16" fill="#BA996C"/>
<rect x="1476.7" y="2164.18" width="107.25" height="70.16" fill="#ED1C24"/>
<rect x="1583.95" y="2164.18" width="107.25" height="70.16" fill="#9B87BE"/>
<path d="M1798.45 2164.18H1905.7L1798.45 2234.34Z" fill="#FFCB05"/>
<path d="M1905.7 2164.18V2234.34H1798.45Z" fill="#F37E21"/>
<rect x="1369.45" y="2234.34" width="107.25" height="70.16" fill="#BA996C"/>
<rect x="1476.7" y="2304.5" width="107.25" height="70.16" fill="#ED1C24"/>
<rect x="1583.95" y="2304.5" width="107.25" height="70.16" fill="#9B87BE"/>
<rect x="1798.45" y="2304.5" width="107.25" height="70.16" fill="#00C0F2"/>
<rect x="1476.7" y="2514.98" width="107.25" height="70.16" fill="#ED1C24"/>
<rect x="1583.95" y="2514.98" width="107.25" height="70.16" fill="#9B87BE"/>
<path d="M1798.45 2514.98H1905.7L1798.45 2585.14Z" fill="#FFCB05"/>
<path d="M1905.7 2514.98V2585.14H1798.45Z" fill="#F37E21"/>
<rect x="1369.45" y="2655.3" width="107.25" height="70.16" fill="#00C0F2"/>
<path d="M1476.7 2655.3H1583.95L1476.7 2725.46Z" fill="#ED1C24"/>
<path d="M1583.95 2655.3V2725.46H1476.7Z" fill="#9B87BE"/>
<text x="1625.49" y="603.38" class="r" fill="#111111" textLength="22.91" lengthAdjust="spacingAndGlyphs">1</text>
<text x="1733.2" y="603.38" class="r" fill="#111111" textLength="22.91" lengthAdjust="spacingAndGlyphs">2</text>
<text x="1839.6" y="602.68" class="b" fill="#0070BA" textLength="25.62" lengthAdjust="spacingAndGlyphs" stroke="#0070BA">3</text>
<text x="1945.81" y="602.68" class="b" fill="#0070BA" textLength="25.62" lengthAdjust="spacingAndGlyphs" stroke="#0070BA">4</text>
<text x="2054.09" y="602.68" class="b" fill="#0070BA" textLength="25.62" lengthAdjust="spacingAndGlyphs" stroke="#0070BA">5</text>
<text x="1410.08" y="672.84" class="b" fill="#0070BA" textLength="25.62" lengthAdjust="spacingAndGlyphs" stroke="#0070BA">6</text>
<text x="1517.33" y="672.84" class="b" fill="#FFFFFF" textLength="25.62" lengthAdjust="spacingAndGlyphs" stroke="#FFFFFF">7</text>
<text x="1625.1" y="672.84" class="b" fill="#FFFFFF" textLength="25.62" lengthAdjust="spacingAndGlyphs" stroke="#FFFFFF">8</text>
<text x="1733.2" y="673.54" class="r" fill="#111111" textLength="22.91" lengthAdjust="spacingAndGlyphs">9</text>
<text x="1825.56" y="672.84" class="b" fill="#FFFFFF" textLength="51.24" lengthAdjust="spacingAndGlyphs" stroke="#FFFFFF">10</text>
<text x="1933.85" y="672.84" class="b" fill="#0070BA" textLength="48.7" lengthAdjust="spacingAndGlyphs" stroke="#0070BA">11</text>
<text x="2040.05" y="672.84" class="b" fill="#0070BA" textLength="51.24" lengthAdjust="spacingAndGlyphs" stroke="#0070BA">12</text>
<text x="1396.56" y="743" class="b" fill="#FFFFFF" textLength="51.24" lengthAdjust="spacingAndGlyphs" stroke="#FFFFFF">13</text>
<text x="1506.61" y="743.7" class="r" fill="#111111" textLength="45.82" lengthAdjust="spacingAndGlyphs">14</text>
<text x="1613.86" y="743.7" class="r" fill="#111111" textLength="45.82" lengthAdjust="spacingAndGlyphs">15</text>
<text x="1721.11" y="743.7" class="r" fill="#111111" textLength="45.82" lengthAdjust="spacingAndGlyphs">16</text>
<text x="1828.83" y="743.7" class="r" fill="#111111" textLength="45.82" lengthAdjust="spacingAndGlyphs">17</text>
<text x="1932.81" y="743" class="b" fill="#0070BA" textLength="51.24" lengthAdjust="spacingAndGlyphs" stroke="#0070BA">18</text>
<text x="2040.05" y="743" class="b" fill="#0070BA" textLength="51.24" lengthAdjust="spacingAndGlyphs" stroke="#0070BA">19</text>
<text x="1399.83" y="813.87" class="r" fill="#111111" textLength="45.82" lengthAdjust="spacingAndGlyphs">20</text>
<text x="1504.85" y="813.16" class="b" fill="#FFFFFF" textLength="51.24" lengthAdjust="spacingAndGlyphs" stroke="#FFFFFF">21</text>
<text x="1612.1" y="813.16" class="b" fill="#FFFFFF" textLength="51.24" lengthAdjust="spacingAndGlyphs" stroke="#FFFFFF">22</text>
<text x="1722.04" y="813.87" class="r" fill="#111111" textLength="45.82" lengthAdjust="spacingAndGlyphs">23</text>
<text x="1826.08" y="813.16" class="b" fill="#FFFFFF" textLength="51.24" lengthAdjust="spacingAndGlyphs" stroke="#FFFFFF">24</text>
<text x="1933.85" y="813.16" class="b" fill="#0070BA" textLength="51.24" lengthAdjust="spacingAndGlyphs" stroke="#0070BA">25</text>
<text x="2041.09" y="813.16" class="b" fill="#0070BA" textLength="51.24" lengthAdjust="spacingAndGlyphs" stroke="#0070BA">26</text>
<text x="1397.6" y="883.32" class="b" fill="#FFFFFF" textLength="51.24" lengthAdjust="spacingAndGlyphs" stroke="#FFFFFF">27</text>
<text x="1507.54" y="884.02" class="r" fill="#111111" textLength="45.82" lengthAdjust="spacingAndGlyphs">28</text>
<text x="1614.79" y="884.02" class="r" fill="#111111" textLength="45.82" lengthAdjust="spacingAndGlyphs">29</text>
<text x="1721.58" y="884.02" class="r" fill="#111111" textLength="45.82" lengthAdjust="spacingAndGlyphs">30</text>
<text x="1829.29" y="884.02" class="r" fill="#111111" textLength="45.82" lengthAdjust="spacingAndGlyphs">31</text>
<text x="1945.29" y="953.48" class="b" fill="#0070BA" textLength="25.62" lengthAdjust="spacingAndGlyphs" stroke="#0070BA">1</text>
<text x="2054.09" y="953.48" class="b" fill="#0070BA" textLength="25.62" lengthAdjust="spacingAndGlyphs" stroke="#0070BA">2</text>
<text x="1411.45" y="1024.35" class="r" fill="#111111" textLength="22.91" lengthAdjust="spacingAndGlyphs">3</text>
<text x="1516.81" y="1023.64" class="b" fill="#FFFFFF" textLength="25.62" lengthAdjust="spacingAndGlyphs" stroke="#FFFFFF">4</text>
<text x="1625.1" y="1023.64" class="b" fill="#FFFFFF" textLength="25.62" lengthAdjust="spacingAndGlyphs" stroke="#FFFFFF">5</text>
<text x="1733.2" y="1024.35" class="r" fill="#111111" textLength="22.91" lengthAdjust="spacingAndGlyphs">6</text>
<text x="1839.08" y="1023.64" class="b" fill="#FFFFFF" textLength="25.62" lengthAdjust="spacingAndGlyphs" stroke="#FFFFFF">7</text>
<text x="1946.85" y="1023.64" class="b" fill="#0070BA" textLength="25.62" lengthAdjust="spacingAndGlyphs" stroke="#0070BA">8</text>
<text x="2054.09" y="1023.64" class="b" fill="#0070BA" textLength="25.62" lengthAdjust="spacingAndGlyphs" stroke="#0070BA">9</text>
<text x="1396.56" y="1093.8" class="b" fill="#FFFFFF" textLength="51.24" lengthAdjust="spacingAndGlyphs" stroke="#FFFFFF">10</text>
<text x="1508.47" y="1094.5" class="r" fill="#111111" textLength="42.76" lengthAdjust="spacingAndGlyphs">11</text>
<text x="1614.33" y="1094.5" class="r" fill="#111111" textLength="45.82" lengthAdjust="spacingAndGlyphs">12</text>
<text x="1721.58" y="1094.5" class="r" fill="#111111" textLength="45.82" lengthAdjust="spacingAndGlyphs">13</text>
<text x="1828.36" y="1094.5" class="r" fill="#111111" textLength="45.82" lengthAdjust="spacingAndGlyphs">14</text>
<text x="1932.81" y="1093.8" class="b" fill="#0070BA" textLength="51.24" lengthAdjust="spacingAndGlyphs" stroke="#0070BA">15</text>
<text x="2040.05" y="1093.8" class="b" fill="#0070BA" textLength="51.24" lengthAdjust="spacingAndGlyphs" stroke="#0070BA">16</text>
<text x="1399.83" y="1164.66" class="r" fill="#111111" textLength="45.82" lengthAdjust="spacingAndGlyphs">17</text>
<text x="1503.81" y="1163.96" class="b" fill="#FFFFFF" textLength="51.24" lengthAdjust="spacingAndGlyphs" stroke="#FFFFFF">18</text>
<text x="1611.06" y="1163.96" class="b" fill="#FFFFFF" textLength="51.24" lengthAdjust="spacingAndGlyphs" stroke="#FFFFFF">19</text>
<text x="1721.58" y="1164.66" class="r" fill="#111111" textLength="45.82" lengthAdjust="spacingAndGlyphs">20</text>
<text x="1826.6" y="1163.96" class="b" fill="#FFFFFF" textLength="51.24" lengthAdjust="spacingAndGlyphs" stroke="#FFFFFF">21</text>
<text x="1933.85" y="1163.96" class="b" fill="#0070BA" textLength="51.24" lengthAdjust="spacingAndGlyphs" stroke="#0070BA">22</text>
<text x="2041.09" y="1163.96" class="b" fill="#0070BA" textLength="51.24" lengthAdjust="spacingAndGlyphs" stroke="#0070BA">23</text>
<text x="1397.08" y="1234.12" class="b" fill="#FFFFFF" textLength="51.24" lengthAdjust="spacingAndGlyphs" stroke="#FFFFFF">24</text>
<text x="1507.08" y="1234.83" class="r" fill="#111111" textLength="45.82" lengthAdjust="spacingAndGlyphs">25</text>
<text x="1614.33" y="1234.83" class="r" fill="#111111" textLength="45.82" lengthAdjust="spacingAndGlyphs">26</text>
<text x="1722.04" y="1234.83" class="r" fill="#111111" textLength="45.82" lengthAdjust="spacingAndGlyphs">27</text>
<text x="1829.29" y="1234.83" class="r" fill="#111111" textLength="45.82" lengthAdjust="spacingAndGlyphs">28</text>
<text x="1933.85" y="1234.12" class="b" fill="#0070BA" textLength="51.24" lengthAdjust="spacingAndGlyphs" stroke="#0070BA">29</text>
<text x="2041.09" y="1234.12" class="b" fill="#0070BA" textLength="51.24" lengthAdjust="spacingAndGlyphs" stroke="#0070BA">30</text>
<text x="1400.29" y="1304.98" class="r" fill="#111111" textLength="45.82" lengthAdjust="spacingAndGlyphs">31</text>
<text x="1516.29" y="1374.44" class="b" fill="#FFFFFF" textLength="25.62" lengthAdjust="spacingAndGlyphs" stroke="#FFFFFF">1</text>
<text x="1625.1" y="1374.44" class="b" fill="#FFFFFF" textLength="25.62" lengthAdjust="spacingAndGlyphs" stroke="#FFFFFF">2</text>
<text x="1733.2" y="1375.14" class="r" fill="#111111" textLength="22.91" lengthAdjust="spacingAndGlyphs">3</text>
<text x="1838.56" y="1374.44" class="b" fill="#FFFFFF" textLength="25.62" lengthAdjust="spacingAndGlyphs" stroke="#FFFFFF">4</text>
<text x="1946.85" y="1374.44" class="b" fill="#0070BA" textLength="25.62" lengthAdjust="spacingAndGlyphs" stroke="#0070BA">5</text>
<text x="2053.57" y="1374.44" class="b" fill="#0070BA" textLength="25.62" lengthAdjust="spacingAndGlyphs" stroke="#0070BA">6</text>
<text x="1410.08" y="1444.61" class="b" fill="#FFFFFF" textLength="25.62" lengthAdjust="spacingAndGlyphs" stroke="#FFFFFF">7</text>
<text x="1518.7" y="1445.31" class="r" fill="#111111" textLength="22.91" lengthAdjust="spacingAndGlyphs">8</text>
<text x="1625.95" y="1445.31" class="r" fill="#111111" textLength="22.91" lengthAdjust="spacingAndGlyphs">9</text>
<text x="1721.11" y="1445.31" class="r" fill="#111111" textLength="45.82" lengthAdjust="spacingAndGlyphs">10</text>
<text x="1830.22" y="1445.31" class="r" fill="#111111" textLength="42.76" lengthAdjust="spacingAndGlyphs">11</text>
<text x="1932.81" y="1444.61" class="b" fill="#0070BA" textLength="51.24" lengthAdjust="spacingAndGlyphs" stroke="#0070BA">12</text>
<text x="2040.05" y="1444.61" class="b" fill="#0070BA" textLength="51.24" lengthAdjust="spacingAndGlyphs" stroke="#0070BA">13</text>
<text x="1399.36" y="1515.46" class="r" fill="#111111" textLength="45.82" lengthAdjust="spacingAndGlyphs">14</text>
<text x="1503.81" y="1514.76" class="b" fill="#FFFFFF" textLength="51.24" lengthAdjust="spacingAndGlyphs" stroke="#FFFFFF">15</text>
<text x="1611.06" y="1514.76" class="b" fill="#FFFFFF" textLength="51.24" lengthAdjust="spacingAndGlyphs" stroke="#FFFFFF">16</text>
<text x="1721.58" y="1515.46" class="r" fill="#111111" textLength="45.82" lengthAdjust="spacingAndGlyphs">17</text>
<text x="1825.56" y="1514.76" class="b" fill="#FFFFFF" textLength="51.24" lengthAdjust="spacingAndGlyphs" stroke="#FFFFFF">18</text>
<text x="1932.81" y="1514.76" class="b" fill="#0070BA" textLength="51.24" lengthAdjust="spacingAndGlyphs" stroke="#0070BA">19</text>
<text x="2041.09" y="1514.76" class="b" fill="#0070BA" textLength="51.24" lengthAdjust="spacingAndGlyphs" stroke="#0070BA">20</text>
<text x="1397.6" y="1584.92" class="b" fill="#FFFFFF" textLength="51.24" lengthAdjust="spacingAndGlyphs" stroke="#FFFFFF">21</text>
<text x="1507.54" y="1585.62" class="r" fill="#111111" textLength="45.82" lengthAdjust="spacingAndGlyphs">22</text>
<text x="1614.79" y="1585.62" class="r" fill="#111111" textLength="45.82" lengthAdjust="spacingAndGlyphs">23</text>
<text x="1721.58" y="1585.62" class="r" fill="#111111" textLength="45.82" lengthAdjust="spacingAndGlyphs">24</text>
<text x="1828.83" y="1585.62" class="r" fill="#111111" textLength="45.82" lengthAdjust="spacingAndGlyphs">25</text>
<text x="1933.85" y="1584.92" class="b" fill="#0070BA" textLength="51.24" lengthAdjust="spacingAndGlyphs" stroke="#0070BA">26</text>
<text x="2041.09" y="1584.92" class="b" fill="#0070BA" textLength="51.24" lengthAdjust="spacingAndGlyphs" stroke="#0070BA">27</text>
<text x="1397.6" y="1655.08" class="b" fill="#0070BA" textLength="51.24" lengthAdjust="spacingAndGlyphs" stroke="#0070BA">28</text>
<text x="1504.85" y="1655.08" class="b" fill="#FFFFFF" textLength="51.24" lengthAdjust="spacingAndGlyphs" stroke="#FFFFFF">29</text>
<text x="1612.1" y="1655.08" class="b" fill="#FFFFFF" textLength="51.24" lengthAdjust="spacingAndGlyphs" stroke="#FFFFFF">30</text>
<text x="1732.74" y="1725.94" class="r" fill="#111111" textLength="22.91" lengthAdjust="spacingAndGlyphs">1</text>
<text x="1839.6" y="1725.24" class="b" fill="#FFFFFF" textLength="25.62" lengthAdjust="spacingAndGlyphs" stroke="#FFFFFF">2</text>
<text x="1946.85" y="1725.24" class="b" fill="#0070BA" textLength="25.62" lengthAdjust="spacingAndGlyphs" stroke="#0070BA">3</text>
<text x="2053.05" y="1725.24" class="b" fill="#0070BA" textLength="25.62" lengthAdjust="spacingAndGlyphs" stroke="#0070BA">4</text>
<text x="1410.6" y="1795.4" class="b" fill="#FFFFFF" textLength="25.62" lengthAdjust="spacingAndGlyphs" stroke="#FFFFFF">5</text>
<text x="1518.7" y="1796.11" class="r" fill="#111111" textLength="22.91" lengthAdjust="spacingAndGlyphs">6</text>
<text x="1625.95" y="1796.11" class="r" fill="#111111" textLength="22.91" lengthAdjust="spacingAndGlyphs">7</text>
<text x="1733.2" y="1796.11" class="r" fill="#111111" textLength="22.91" lengthAdjust="spacingAndGlyphs">8</text>
<text x="1840.45" y="1796.11" class="r" fill="#111111" textLength="22.91" lengthAdjust="spacingAndGlyphs">9</text>
<text x="1932.81" y="1795.4" class="b" fill="#0070BA" textLength="51.24" lengthAdjust="spacingAndGlyphs" stroke="#0070BA">10</text>
<text x="2041.09" y="1795.4" class="b" fill="#0070BA" textLength="48.7" lengthAdjust="spacingAndGlyphs" stroke="#0070BA">11</text>
<text x="1399.83" y="1866.26" class="r" fill="#111111" textLength="45.82" lengthAdjust="spacingAndGlyphs">12</text>
<text x="1503.81" y="1865.56" class="b" fill="#FFFFFF" textLength="51.24" lengthAdjust="spacingAndGlyphs" stroke="#FFFFFF">13</text>
<text x="1610.54" y="1865.56" class="b" fill="#FFFFFF" textLength="51.24" lengthAdjust="spacingAndGlyphs" stroke="#FFFFFF">14</text>
<text x="1721.11" y="1866.26" class="r" fill="#111111" textLength="45.82" lengthAdjust="spacingAndGlyphs">15</text>
<text x="1825.56" y="1865.56" class="b" fill="#FFFFFF" textLength="51.24" lengthAdjust="spacingAndGlyphs" stroke="#FFFFFF">16</text>
<text x="1932.81" y="1865.56" class="b" fill="#0070BA" textLength="51.24" lengthAdjust="spacingAndGlyphs" stroke="#0070BA">17</text>
<text x="2040.05" y="1865.56" class="b" fill="#0070BA" textLength="51.24" lengthAdjust="spacingAndGlyphs" stroke="#0070BA">18</text>
<text x="1396.56" y="1935.72" class="b" fill="#FFFFFF" textLength="51.24" lengthAdjust="spacingAndGlyphs" stroke="#FFFFFF">19</text>
<text x="1507.08" y="1936.42" class="r" fill="#111111" textLength="45.82" lengthAdjust="spacingAndGlyphs">20</text>
<text x="1614.79" y="1936.42" class="r" fill="#111111" textLength="45.82" lengthAdjust="spacingAndGlyphs">21</text>
<text x="1722.04" y="1936.42" class="r" fill="#111111" textLength="45.82" lengthAdjust="spacingAndGlyphs">22</text>
<text x="1829.29" y="1936.42" class="r" fill="#111111" textLength="45.82" lengthAdjust="spacingAndGlyphs">23</text>
<text x="1933.33" y="1935.72" class="b" fill="#0070BA" textLength="51.24" lengthAdjust="spacingAndGlyphs" stroke="#0070BA">24</text>
<text x="2041.09" y="1935.72" class="b" fill="#0070BA" textLength="51.24" lengthAdjust="spacingAndGlyphs" stroke="#0070BA">25</text>
<text x="1397.6" y="2005.88" class="b" fill="#FFFFFF" textLength="51.24" lengthAdjust="spacingAndGlyphs" stroke="#FFFFFF">26</text>
<text x="1504.85" y="2005.88" class="b" fill="#FFFFFF" textLength="51.24" lengthAdjust="spacingAndGlyphs" stroke="#FFFFFF">27</text>
<text x="1612.1" y="2005.88" class="b" fill="#0070BA" textLength="51.24" lengthAdjust="spacingAndGlyphs" stroke="#0070BA">28</text>
<text x="1722.04" y="2006.58" class="r" fill="#111111" textLength="45.82" lengthAdjust="spacingAndGlyphs">29</text>
<text x="1826.6" y="2005.88" class="b" fill="#FFFFFF" textLength="51.24" lengthAdjust="spacingAndGlyphs" stroke="#FFFFFF">30</text>
<text x="1933.85" y="2005.88" class="b" fill="#0070BA" textLength="51.24" lengthAdjust="spacingAndGlyphs" stroke="#0070BA">31</text>
<text x="2052.53" y="2076.05" class="b" fill="#0070BA" textLength="25.62" lengthAdjust="spacingAndGlyphs" stroke="#0070BA">1</text>
<text x="1410.6" y="2146.21" class="b" fill="#FFFFFF" textLength="25.62" lengthAdjust="spacingAndGlyphs" stroke="#FFFFFF">2</text>
<text x="1518.7" y="2146.91" class="r" fill="#111111" textLength="22.91" lengthAdjust="spacingAndGlyphs">3</text>
<text x="1626.41" y="2146.91" class="r" fill="#111111" textLength="22.91" lengthAdjust="spacingAndGlyphs">4</text>
<text x="1733.2" y="2146.91" class="r" fill="#111111" textLength="22.91" lengthAdjust="spacingAndGlyphs">5</text>
<text x="1840.45" y="2146.91" class="r" fill="#111111" textLength="22.91" lengthAdjust="spacingAndGlyphs">6</text>
<text x="1946.33" y="2146.21" class="b" fill="#0070BA" textLength="25.62" lengthAdjust="spacingAndGlyphs" stroke="#0070BA">7</text>
<text x="2054.09" y="2146.21" class="b" fill="#0070BA" textLength="25.62" lengthAdjust="spacingAndGlyphs" stroke="#0070BA">8</text>
<text x="1411.45" y="2217.07" class="r" fill="#111111" textLength="22.91" lengthAdjust="spacingAndGlyphs">9</text>
<text x="1503.81" y="2216.37" class="b" fill="#FFFFFF" textLength="51.24" lengthAdjust="spacingAndGlyphs" stroke="#FFFFFF">10</text>
<text x="1612.1" y="2216.37" class="b" fill="#FFFFFF" textLength="48.7" lengthAdjust="spacingAndGlyphs" stroke="#FFFFFF">11</text>
<text x="1721.58" y="2217.07" class="r" fill="#111111" textLength="45.82" lengthAdjust="spacingAndGlyphs">12</text>
<text x="1825.56" y="2216.37" class="b" fill="#FFFFFF" textLength="51.24" lengthAdjust="spacingAndGlyphs" stroke="#FFFFFF">13</text>
<text x="1932.29" y="2216.37" class="b" fill="#0070BA" textLength="51.24" lengthAdjust="spacingAndGlyphs" stroke="#0070BA">14</text>
<text x="2040.05" y="2216.37" class="b" fill="#0070BA" textLength="51.24" lengthAdjust="spacingAndGlyphs" stroke="#0070BA">15</text>
<text x="1396.56" y="2286.53" class="b" fill="#FFFFFF" textLength="51.24" lengthAdjust="spacingAndGlyphs" stroke="#FFFFFF">16</text>
<text x="1503.81" y="2286.53" class="b" fill="#0070BA" textLength="51.24" lengthAdjust="spacingAndGlyphs" stroke="#0070BA">17</text>
<text x="1614.33" y="2287.23" class="r" fill="#111111" textLength="45.82" lengthAdjust="spacingAndGlyphs">18</text>
<text x="1721.58" y="2287.23" class="r" fill="#111111" textLength="45.82" lengthAdjust="spacingAndGlyphs">19</text>
<text x="1828.83" y="2287.23" class="r" fill="#111111" textLength="45.82" lengthAdjust="spacingAndGlyphs">20</text>
<text x="1933.85" y="2286.53" class="b" fill="#0070BA" textLength="51.24" lengthAdjust="spacingAndGlyphs" stroke="#0070BA">21</text>
<text x="2041.09" y="2286.53" class="b" fill="#0070BA" textLength="51.24" lengthAdjust="spacingAndGlyphs" stroke="#0070BA">22</text>
<text x="1400.29" y="2357.39" class="r" fill="#111111" textLength="45.82" lengthAdjust="spacingAndGlyphs">23</text>
<text x="1504.33" y="2356.69" class="b" fill="#FFFFFF" textLength="51.24" lengthAdjust="spacingAndGlyphs" stroke="#FFFFFF">24</text>
<text x="1612.1" y="2356.69" class="b" fill="#FFFFFF" textLength="51.24" lengthAdjust="spacingAndGlyphs" stroke="#FFFFFF">25</text>
<text x="1721.58" y="2357.39" class="r" fill="#111111" textLength="45.82" lengthAdjust="spacingAndGlyphs">26</text>
<text x="1826.6" y="2356.69" class="b" fill="#FFFFFF" textLength="51.24" lengthAdjust="spacingAndGlyphs" stroke="#FFFFFF">27</text>
<text x="1933.85" y="2356.69" class="b" fill="#0070BA" textLength="51.24" lengthAdjust="spacingAndGlyphs" stroke="#0070BA">28</text>
<text x="2041.09" y="2356.69" class="b" fill="#0070BA" textLength="51.24" lengthAdjust="spacingAndGlyphs" stroke="#0070BA">29</text>
<text x="1399.83" y="2427.55" class="r" fill="#111111" textLength="45.82" lengthAdjust="spacingAndGlyphs">30</text>
<text x="1518.24" y="2497.7" class="r" fill="#111111" textLength="22.91" lengthAdjust="spacingAndGlyphs">1</text>
<text x="1625.95" y="2497.7" class="r" fill="#111111" textLength="22.91" lengthAdjust="spacingAndGlyphs">2</text>
<text x="1733.2" y="2497.7" class="r" fill="#111111" textLength="22.91" lengthAdjust="spacingAndGlyphs">3</text>
<text x="1840.91" y="2497.7" class="r" fill="#111111" textLength="22.91" lengthAdjust="spacingAndGlyphs">4</text>
<text x="1946.85" y="2497.01" class="b" fill="#0070BA" textLength="25.62" lengthAdjust="spacingAndGlyphs" stroke="#0070BA">5</text>
<text x="2053.57" y="2497.01" class="b" fill="#0070BA" textLength="25.62" lengthAdjust="spacingAndGlyphs" stroke="#0070BA">6</text>
<text x="1411.45" y="2567.87" class="r" fill="#111111" textLength="22.91" lengthAdjust="spacingAndGlyphs">7</text>
<text x="1517.85" y="2567.17" class="b" fill="#FFFFFF" textLength="25.62" lengthAdjust="spacingAndGlyphs" stroke="#FFFFFF">8</text>
<text x="1625.1" y="2567.17" class="b" fill="#FFFFFF" textLength="25.62" lengthAdjust="spacingAndGlyphs" stroke="#FFFFFF">9</text>
<text x="1721.11" y="2567.87" class="r" fill="#111111" textLength="45.82" lengthAdjust="spacingAndGlyphs">10</text>
<text x="1826.6" y="2567.17" class="b" fill="#FFFFFF" textLength="48.7" lengthAdjust="spacingAndGlyphs" stroke="#FFFFFF">11</text>
<text x="1932.81" y="2567.17" class="b" fill="#0070BA" textLength="51.24" lengthAdjust="spacingAndGlyphs" stroke="#0070BA">12</text>
<text x="2040.05" y="2567.17" class="b" fill="#0070BA" textLength="51.24" lengthAdjust="spacingAndGlyphs" stroke="#0070BA">13</text>
<text x="1399.36" y="2638.03" class="r" fill="#111111" textLength="45.82" lengthAdjust="spacingAndGlyphs">14</text>
<text x="1506.61" y="2638.03" class="r" fill="#111111" textLength="45.82" lengthAdjust="spacingAndGlyphs">15</text>
<text x="1613.86" y="2638.03" class="r" fill="#111111" textLength="45.82" lengthAdjust="spacingAndGlyphs">16</text>
<text x="1721.58" y="2638.03" class="r" fill="#111111" textLength="45.82" lengthAdjust="spacingAndGlyphs">17</text>
<text x="1828.83" y="2638.03" class="r" fill="#111111" textLength="45.82" lengthAdjust="spacingAndGlyphs">18</text>
<text x="1932.81" y="2637.33" class="b" fill="#0070BA" textLength="51.24" lengthAdjust="spacingAndGlyphs" stroke="#0070BA">19</text>
<text x="2041.09" y="2637.33" class="b" fill="#0070BA" textLength="51.24" lengthAdjust="spacingAndGlyphs" stroke="#0070BA">20</text>
<text x="1397.6" y="2707.49" class="b" fill="#FFFFFF" textLength="51.24" lengthAdjust="spacingAndGlyphs" stroke="#FFFFFF">21</text>
<text x="1504.85" y="2707.49" class="b" fill="#FFFFFF" textLength="51.24" lengthAdjust="spacingAndGlyphs" stroke="#FFFFFF">22</text>
<text x="1614.79" y="2708.18" class="r" fill="#111111" textLength="45.82" lengthAdjust="spacingAndGlyphs">23</text>
<text x="1718.83" y="2707.49" class="b" fill="#0070BA" textLength="51.24" lengthAdjust="spacingAndGlyphs" stroke="#0070BA">24</text>
<text x="1826.6" y="2707.49" class="b" fill="#0070BA" textLength="51.24" lengthAdjust="spacingAndGlyphs" stroke="#0070BA">25</text>
<text x="1933.85" y="2707.49" class="b" fill="#0070BA" textLength="51.24" lengthAdjust="spacingAndGlyphs" stroke="#0070BA">26</text>
<text x="2041.09" y="2707.49" class="b" fill="#0070BA" textLength="51.24" lengthAdjust="spacingAndGlyphs" stroke="#0070BA">27</text>
<text x="1400.29" y="2778.35" class="r" fill="#111111" textLength="45.82" lengthAdjust="spacingAndGlyphs">28</text>
<text x="1507.54" y="2778.35" class="r" fill="#111111" textLength="45.82" lengthAdjust="spacingAndGlyphs">29</text>
<text x="1614.33" y="2778.35" class="r" fill="#111111" textLength="45.82" lengthAdjust="spacingAndGlyphs">30</text>
<text x="1722.04" y="2778.35" class="r" fill="#111111" textLength="45.82" lengthAdjust="spacingAndGlyphs">31</text>
<text transform="translate(1341.2 724.45) rotate(-90)" x="-149.94" y="0" font-size="65" font-weight="bold" fill="#0070BA" textLength="299.06" lengthAdjust="spacingAndGlyphs">ČERVENEC</text>
<text transform="translate(1341.2 1112.95) rotate(-90)" x="-104.74" y="0" font-size="65" font-weight="bold" fill="#0070BA" textLength="211.31" lengthAdjust="spacingAndGlyphs">SRPEN</text>
<text transform="translate(1341.2 1498.9) rotate(-90)" x="-75.45" y="0" font-size="65" font-weight="bold" fill="#0070BA" textLength="147.63" lengthAdjust="spacingAndGlyphs">ZÁŘÍ</text>
<text transform="translate(1341.2 1847.9) rotate(-90)" x="-94.87" y="0" font-size="65" font-weight="bold" fill="#0070BA" textLength="190.19" lengthAdjust="spacingAndGlyphs">ŘÍJEN</text>
<text transform="translate(1341.2 2233.1) rotate(-90)" x="-154.52" y="0" font-size="65" font-weight="bold" fill="#0070BA" textLength="307.71" lengthAdjust="spacingAndGlyphs">LISTOPAD</text>
<text transform="translate(1341.2 2618.85) rotate(-90)" x="-149.66" y="0" font-size="65" font-weight="bold" fill="#0070BA" textLength="298.01" lengthAdjust="spacingAndGlyphs">PROSINEC</text>
<rect x="1262.2" y="550.5" width="858" height="2245.12" fill="none" stroke="#0070BA" stroke-width="6"/>
<rect x="1262.2" y="898.3" width="858" height="6" fill="#0070BA"/>
<rect x="1262.2" y="1319.26" width="858" height="6" fill="#0070BA"/>
<rect x="1262.2" y="1670.06" width="858" height="6" fill="#0070BA"/>
<rect x="1262.2" y="2020.86" width="858" height="6" fill="#0070BA"/>
<rect x="1262.2" y="2441.82" width="858" height="6" fill="#0070BA"/>
<text x="148.57" y="2848" font-size="54.5" font-weight="bold" fill="#0070BA" textLength="30.33" lengthAdjust="spacingAndGlyphs" stroke="#0070BA" stroke-width="2.6">X</text>
<rect x="248" y="2833" width="24" height="3.2" fill="#0070BA"/>
<text x="309.35" y="2848.7" font-size="53" fill="#0070BA" textLength="678.35" lengthAdjust="spacingAndGlyphs">soboty, neděle a státní svátky</text>
<rect x="102" y="2892.2" width="124.7" height="77.5" fill="#ED1C24"/>
<text x="148.78" y="2951.3" font-size="54.5" font-weight="bold" fill="#FFFFFF" textLength="29.91" lengthAdjust="spacingAndGlyphs" stroke="#FFFFFF" stroke-width="2.6">X</text>
<rect x="102" y="2994.6" width="124.7" height="77.8" fill="#9B87BE"/>
<text x="148.78" y="3053.85" font-size="54.5" font-weight="bold" fill="#FFFFFF" textLength="29.91" lengthAdjust="spacingAndGlyphs" stroke="#FFFFFF" stroke-width="2.6">X</text>
<path d="M102 3097.4H226.7L102 3171Z" fill="#FFCB05"/>
<path d="M226.7 3097.4V3171H102Z" fill="#F37E21"/>
<text x="148.78" y="3154.55" font-size="54.5" font-weight="bold" fill="#FFFFFF" textLength="29.91" lengthAdjust="spacingAndGlyphs" stroke="#FFFFFF" stroke-width="2.6">X</text>
<rect x="102" y="3200.3" width="124.7" height="77" fill="#00C0F2"/>
<text x="148.78" y="3259.15" font-size="54.5" font-weight="bold" fill="#FFFFFF" textLength="29.91" lengthAdjust="spacingAndGlyphs" stroke="#FFFFFF" stroke-width="2.6">X</text>
<rect x="102" y="3302.5" width="124.7" height="77.4" fill="#BA996C"/>
<text x="148.78" y="3361.55" font-size="54.5" font-weight="bold" fill="#FFFFFF" textLength="29.91" lengthAdjust="spacingAndGlyphs" stroke="#FFFFFF" stroke-width="2.6">X</text>
<rect x="248" y="2936.1" width="24" height="3.2" fill="#939598"/>
<rect x="248" y="3038.2" width="24" height="3.2" fill="#939598"/>
<rect x="248" y="3139.2" width="24" height="3.2" fill="#F1B31C"/>
<rect x="248" y="3244" width="24" height="3.2" fill="#0A97D9"/>
<rect x="248" y="3346" width="24" height="3.2" fill="#B4581F"/>
<text x="311.8" y="2952.3" font-size="53" font-weight="bold" fill="#939598" textLength="449.09" lengthAdjust="spacingAndGlyphs" stroke="#FFFFFF" stroke-width="0.5">vyvážení popelnic,</text>
<text x="771.74" y="2952.3" font-size="53" font-weight="bold" fill="#ED1C24" textLength="390.97" lengthAdjust="spacingAndGlyphs" stroke="#FFFFFF" stroke-width="0.5">levá strana obce</text>
<text x="1266.29" y="2952.3" font-size="53" font-weight="bold" fill="#ED1C24" textLength="868.89" lengthAdjust="spacingAndGlyphs" stroke="#FFFFFF" stroke-width="0.5">(strana kostela, směr Kateřinice atd.)</text>
<text x="311.8" y="3054.4" font-size="53" font-weight="bold" fill="#939598" textLength="449.09" lengthAdjust="spacingAndGlyphs" stroke="#FFFFFF" stroke-width="0.5">vyvážení popelnic,</text>
<text x="774.15" y="3054.4" font-size="53" font-weight="bold" fill="#9B87BE" textLength="386.06" lengthAdjust="spacingAndGlyphs" stroke="#FFFFFF" stroke-width="0.5">pravá strana obce</text>
<text x="1263.43" y="3054.4" font-size="53" font-weight="bold" fill="#9B87BE" textLength="998.8" lengthAdjust="spacingAndGlyphs" stroke="#FFFFFF" stroke-width="0.5">(strana sokolovny, směr Kobelné/Hološín atd.)</text>
<text x="310.44" y="3155.4" font-size="53" font-weight="bold" fill="#F1B31C" textLength="721.91" lengthAdjust="spacingAndGlyphs" stroke="#FFFFFF" stroke-width="0.5">pytlový svoz plastů, tetrapaků</text>
<text x="1125.75" y="3155.4" font-size="53" font-weight="bold" fill="#EF7123" textLength="445.65" lengthAdjust="spacingAndGlyphs" stroke="#FFFFFF" stroke-width="0.5">a zbytkových kovů</text>
<text x="1676.53" y="3155.4" font-size="53" font-weight="bold" fill="#F1B31C" textLength="255.93" lengthAdjust="spacingAndGlyphs" stroke="#FFFFFF" stroke-width="0.5">(celá obec)</text>
<text x="310.43" y="3260.2" font-size="53" font-weight="bold" fill="#0A97D9" textLength="932.56" lengthAdjust="spacingAndGlyphs" stroke="#FFFFFF" stroke-width="0.5">pytlový svoz papíru, kartonu a lepenky</text>
<text x="1348.54" y="3260.2" font-size="53" font-weight="bold" fill="#0A97D9" textLength="254.5" lengthAdjust="spacingAndGlyphs" stroke="#FFFFFF" stroke-width="0.5">(celá obec)</text>
<text x="311.8" y="3362.2" font-size="53" font-weight="bold" fill="#B4581F" textLength="511.16" lengthAdjust="spacingAndGlyphs" stroke="#FFFFFF" stroke-width="0.5">vyvážení BIO odpadu</text>
<text x="925.72" y="3362.2" font-size="53" font-weight="bold" fill="#B4581F" textLength="256.44" lengthAdjust="spacingAndGlyphs" stroke="#FFFFFF" stroke-width="0.5">(celá obec)</text>
<g transform="translate(1187.1 2888.2)">
<path d="M0 0H26V81.5H2.8Z" fill="#939598"/>
<path d="M26 0H51.5L49.6 81.5H26Z" fill="#808285"/>
<path d="M22.2 0H26V81.5H22.4Z" fill="#9C9DA0"/>
<path d="M-7.4 -4.6H1.5Q2.5 -7.7 5 -7.7H21.2A4.8 3.2 0 0 1 30.8 -7.7H47Q49 -7.7 51 -5L53 -2.4H47.5V-2.4H-7.4Z" fill="#8A8C8E"/>
<circle cx="52.2" cy="-1.2" r="3.4" fill="#8A8C8E"/>
</g>
<g transform="translate(1188.8 2991.3)">
<path d="M0 0H26V81.5H2.8Z" fill="#939598"/>
<path d="M26 0H51.5L49.6 81.5H26Z" fill="#808285"/>
<path d="M22.2 0H26V81.5H22.4Z" fill="#9C9DA0"/>
<path d="M-7.4 -4.6H1.5Q2.5 -7.7 5 -7.7H21.2A4.8 3.2 0 0 1 30.8 -7.7H47Q49 -7.7 51 -5L53 -2.4H47.5V-2.4H-7.4Z" fill="#8A8C8E"/>
<circle cx="52.2" cy="-1.2" r="3.4" fill="#8A8C8E"/>
</g>
<g transform="translate(853.5 3299.2)">
<path d="M0 0H26V81.5H2.8Z" fill="#D46F26"/>
<path d="M26 0H51.5L49.6 81.5H26Z" fill="#B85A1E"/>
<path d="M22.2 0H26V81.5H22.4Z" fill="#D97A35"/>
<path d="M-7.4 -4.6H1.5Q2.5 -7.7 5 -7.7H21.2A4.8 3.2 0 0 1 30.8 -7.7H47Q49 -7.7 51 -5L53 -2.4H47.5V-2.4H-7.4Z" fill="#DA6A20"/>
<circle cx="52.2" cy="-1.2" r="3.4" fill="#DA6A20"/>
<path d="M38.6 20.2C29 21 16 26 13.3 40C12.5 46 14 52 16 55C20 55.5 32 50 35.5 38C37 32 38 26 38.6 20.2Z" fill="#F7EDE2"/>
<path d="M17 56L19 52C21 45 24 40 27.5 33.5L28.2 34.5C25 41 22.5 47 20.5 55Z" fill="#D46F26"/>
</g>
<g transform="translate(1051.1 3097.1)">
<clipPath id="bcy"><rect x="28.8" y="-2" width="40" height="80"/></clipPath>
<path d="M18.5 18C10 25 0 37 0 51C0 63 4 73.7 13.5 73.7H43.5C53 73.7 57 63 57 51C57 37 47 25 38.5 18Z" fill="#EFDA70"/>
<path d="M18.5 18C10 25 0 37 0 51C0 63 4 73.7 13.5 73.7H43.5C53 73.7 57 63 57 51C57 37 47 25 38.5 18Z" fill="#F0D03A" clip-path="url(#bcy)"/>
<path d="M10.8 1.2Q15 0 20.5 0.3L22.5 3.4Q25.5 4.6 27.4 1.2L29.6 1.2Q31.5 4.6 34.5 3.4L36.2 0.3Q41 0 44.8 1.2L44.8 4.5L37.9 17H18.2L10.8 4.5Z" fill="#EFDA70"/>
<path d="M10.8 1.2Q15 0 20.5 0.3L22.5 3.4Q25.5 4.6 27.4 1.2L29.6 1.2Q31.5 4.6 34.5 3.4L36.2 0.3Q41 0 44.8 1.2L44.8 4.5L37.9 17H18.2L10.8 4.5Z" fill="#F0D03A" clip-path="url(#bcy)"/>
<rect x="18.2" y="15.6" width="19.7" height="2.6" fill="#9C8A26"/>
</g>
<g transform="translate(1587.4 3097.1)">
<clipPath id="bco"><rect x="28.8" y="-2" width="40" height="80"/></clipPath>
<path d="M18.5 18C10 25 0 37 0 51C0 63 4 73.7 13.5 73.7H43.5C53 73.7 57 63 57 51C57 37 47 25 38.5 18Z" fill="#E07F26"/>
<path d="M18.5 18C10 25 0 37 0 51C0 63 4 73.7 13.5 73.7H43.5C53 73.7 57 63 57 51C57 37 47 25 38.5 18Z" fill="#D0692A" clip-path="url(#bco)"/>
<path d="M10.8 1.2Q15 0 20.5 0.3L22.5 3.4Q25.5 4.6 27.4 1.2L29.6 1.2Q31.5 4.6 34.5 3.4L36.2 0.3Q41 0 44.8 1.2L44.8 4.5L37.9 17H18.2L10.8 4.5Z" fill="#E07F26"/>
<path d="M10.8 1.2Q15 0 20.5 0.3L22.5 3.4Q25.5 4.6 27.4 1.2L29.6 1.2Q31.5 4.6 34.5 3.4L36.2 0.3Q41 0 44.8 1.2L44.8 4.5L37.9 17H18.2L10.8 4.5Z" fill="#D0692A" clip-path="url(#bco)"/>
<rect x="18.2" y="15.6" width="19.7" height="2.6" fill="#9E3A1A"/>
</g>
<g transform="translate(1267.7 3200)">
<clipPath id="bcb"><rect x="28.8" y="-2" width="40" height="80"/></clipPath>
<path d="M18.5 18C10 25 0 37 0 51C0 63 4 73.7 13.5 73.7H43.5C53 73.7 57 63 57 51C57 37 47 25 38.5 18Z" fill="#4BAEDC"/>
<path d="M18.5 18C10 25 0 37 0 51C0 63 4 73.7 13.5 73.7H43.5C53 73.7 57 63 57 51C57 37 47 25 38.5 18Z" fill="#3A9BD3" clip-path="url(#bcb)"/>
<path d="M10.8 1.2Q15 0 20.5 0.3L22.5 3.4Q25.5 4.6 27.4 1.2L29.6 1.2Q31.5 4.6 34.5 3.4L36.2 0.3Q41 0 44.8 1.2L44.8 4.5L37.9 17H18.2L10.8 4.5Z" fill="#4BAEDC"/>
<path d="M10.8 1.2Q15 0 20.5 0.3L22.5 3.4Q25.5 4.6 27.4 1.2L29.6 1.2Q31.5 4.6 34.5 3.4L36.2 0.3Q41 0 44.8 1.2L44.8 4.5L37.9 17H18.2L10.8 4.5Z" fill="#3A9BD3" clip-path="url(#bcb)"/>
<rect x="18.2" y="15.6" width="19.7" height="2.6" fill="#1F6C9C"/>
</g>
</svg>
</body></html>
